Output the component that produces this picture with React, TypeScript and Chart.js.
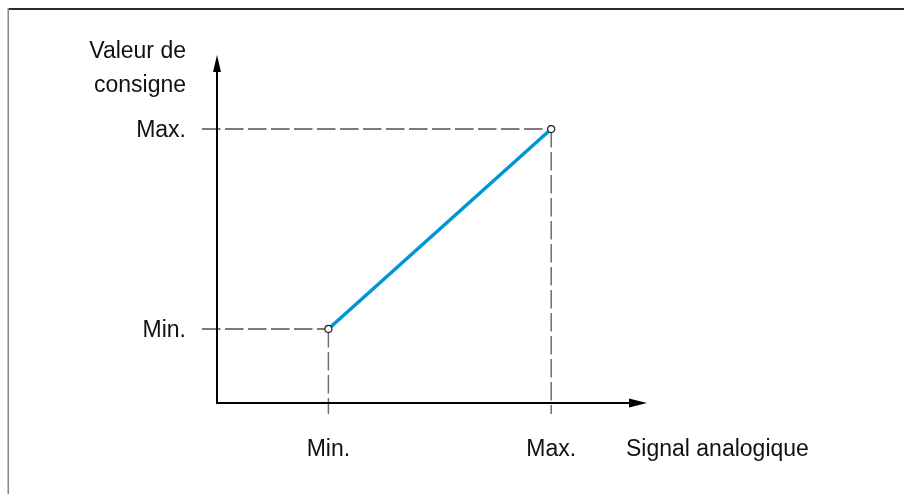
import React, { useEffect, useRef } from "react";
import { Chart, registerables } from "chart.js";

Chart.register(...registerables);

// Data (abstract units)
const signalValues = [1, 3]; // x: analog signal Min., Max.
const setpointValues = [1, 3.7]; // y: setpoint Min., Max.
const xTickValues = [1, 3];
const xTickLabels = ["Min.", "Max."];
const yTickValues = [1, 3.7];
const yTickLabels = ["Min.", "Max."];
const xAxisTitle = "Signal analogique";
const yAxisTitle = ["Valeur de", "consigne"];
const xAxisEnd = 3.86;
const yAxisEnd = 4.7;

const FONT = '23px "Liberation Sans", Arial, sans-serif';

const diagramPlugin = {
  id: "diagram",
  beforeDatasetsDraw(chart: any) {
    const ctx = chart.ctx;
    const xs = chart.scales.x;
    const ys = chart.scales.y;
    const x0 = xs.getPixelForValue(0);
    const y0 = ys.getPixelForValue(0);
    const xTip = xs.getPixelForValue(xAxisEnd);
    const yTip = ys.getPixelForValue(yAxisEnd);
    ctx.save();
    // frame
    ctx.strokeStyle = "#2a2a2a";
    ctx.lineWidth = 2;
    ctx.beginPath();
    ctx.moveTo(8, 9);
    ctx.lineTo(chart.width, 9);
    ctx.stroke();
    ctx.strokeStyle = "#888";
    ctx.lineWidth = 1.5;
    ctx.beginPath();
    ctx.moveTo(8.25, 8);
    ctx.lineTo(8.25, chart.height);
    ctx.stroke();

    // dashed guide lines
    ctx.lineWidth = 1.5;
    ctx.setLineDash([18.5, 4.5]);
    for (let i = 0; i < signalValues.length; i++) {
      const px = xs.getPixelForValue(signalValues[i]);
      const py = ys.getPixelForValue(setpointValues[i]);
      ctx.strokeStyle = "#505050";
      ctx.beginPath();
      ctx.moveTo(x0 - 15, py);
      ctx.lineTo(px, py);
      ctx.stroke();
      ctx.strokeStyle = "#6e6e6e";
      ctx.beginPath();
      ctx.moveTo(px, py);
      ctx.lineTo(px, y0 + 11);
      ctx.stroke();
    }
    ctx.setLineDash([]);

    // axes
    ctx.strokeStyle = "#000";
    ctx.fillStyle = "#000";
    ctx.lineWidth = 2;
    ctx.beginPath();
    ctx.moveTo(x0, yTip + 10);
    ctx.lineTo(x0, y0);
    ctx.lineTo(xTip - 10, y0);
    ctx.stroke();
    // arrowheads
    ctx.beginPath();
    ctx.moveTo(x0, yTip);
    ctx.lineTo(x0 - 4, yTip + 17);
    ctx.lineTo(x0 + 4, yTip + 17);
    ctx.closePath();
    ctx.fill();
    ctx.beginPath();
    ctx.moveTo(xTip, y0);
    ctx.lineTo(xTip - 18, y0 - 4.5);
    ctx.lineTo(xTip - 18, y0 + 4.5);
    ctx.closePath();
    ctx.fill();

    // labels
    ctx.font = FONT;
    ctx.fillStyle = "#111";
    ctx.textBaseline = "alphabetic";
    ctx.textAlign = "right";
    for (let i = 0; i < yTickValues.length; i++) {
      ctx.fillText(yTickLabels[i], x0 - 31, ys.getPixelForValue(yTickValues[i]) + 8);
    }
    ctx.fillText(yAxisTitle[0], x0 - 31, yTip + 3);
    ctx.fillText(yAxisTitle[1], x0 - 31, yTip + 37);
    ctx.textAlign = "center";
    for (let i = 0; i < xTickValues.length; i++) {
      ctx.fillText(xTickLabels[i], xs.getPixelForValue(xTickValues[i]), y0 + 53);
    }
    ctx.textAlign = "left";
    ctx.fillText(xAxisTitle, xTip - 21, y0 + 53);
    ctx.restore();
  },
};

export default function App() {
  const ref = useRef<HTMLCanvasElement>(null);
  useEffect(() => {
    document.body.style.margin = "0";
    document.body.style.overflow = "hidden";
    if (!ref.current) return;
    const chart = new Chart(ref.current, {
      type: "line",
      data: {
        datasets: [
          {
            data: signalValues.map((x, i) => ({ x, y: setpointValues[i] })),
            borderColor: "#0096D6",
            borderWidth: 3.5,
            pointRadius: 3.5,
            pointBackgroundColor: "#fff",
            pointBorderColor: "#222",
            pointBorderWidth: 1.2,
            clip: false as any,
            tension: 0,
          },
        ],
      },
      options: {
        animation: false,
        responsive: false,
        devicePixelRatio: 1,
        layout: { padding: { left: 217, top: 55, right: 257, bottom: 91 } },
        plugins: { legend: { display: false }, tooltip: { enabled: false } },
        events: [],
        scales: {
          x: { type: "linear", min: 0, max: xAxisEnd, display: false },
          y: { type: "linear", min: 0, max: yAxisEnd, display: false },
        },
      },
      plugins: [diagramPlugin],
    });
    return () => chart.destroy();
  }, []);
  return (
    <div style={{ width: 904, height: 494, background: "#fff" }}>
      <canvas ref={ref} width={904} height={494} style={{ display: "block" }} />
    </div>
  );
}
